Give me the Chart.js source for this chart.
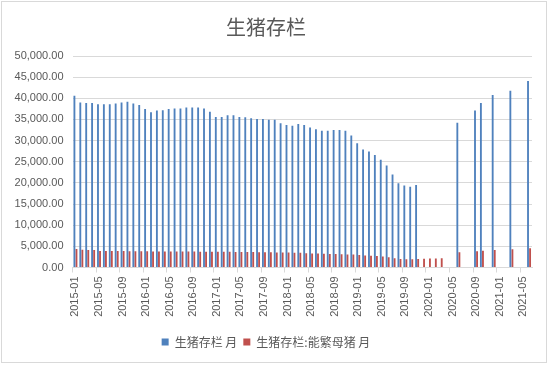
<!DOCTYPE html>
<html><head><meta charset="utf-8">
<script src="https://cdn.jsdelivr.net/npm/chart.js@4.4.1/dist/chart.umd.min.js"></script>
<style>html,body{margin:0;padding:0;background:#fff;}canvas{display:block;}</style>
</head><body>
<canvas id="c" width="550" height="365"></canvas>
<script>
const categories = [
 '2015-01','2015-02','2015-03','2015-04','2015-05','2015-06','2015-07','2015-08','2015-09','2015-10','2015-11','2015-12',
 '2016-01','2016-02','2016-03','2016-04','2016-05','2016-06','2016-07','2016-08','2016-09','2016-10','2016-11','2016-12',
 '2017-01','2017-02','2017-03','2017-04','2017-05','2017-06','2017-07','2017-08','2017-09','2017-10','2017-11','2017-12',
 '2018-01','2018-02','2018-03','2018-04','2018-05','2018-06','2018-07','2018-08','2018-09','2018-10','2018-11','2018-12',
 '2019-01','2019-02','2019-03','2019-04','2019-05','2019-06','2019-07','2019-08','2019-09','2019-10','2019-11','2019-12',
 '2020-01','2020-02','2020-03','2020-04','2020-05','2020-06','2020-07','2020-08','2020-09','2020-10','2020-11','2020-12',
 '2021-01','2021-02','2021-03','2021-04','2021-05','2021-06'
];
const tickLabels = ['2015-01','2015-05','2015-09','2016-01','2016-05','2016-09','2017-01','2017-05','2017-09',
 '2018-01','2018-05','2018-09','2019-01','2019-05','2019-09','2020-01','2020-05','2020-09','2021-01','2021-05'];
const hogStock = [
 40600,39000,38900,38900,38600,38600,38600,38800,39000,39200,38800,38400,
 37500,36700,37100,37200,37500,37600,37600,37800,37800,37800,37600,36800,
 35600,35600,36000,36000,35600,35500,35300,35100,35100,34900,34900,34100,
 33700,33500,33900,33700,33100,32700,32300,32300,32500,32500,32300,31200,
 29400,27900,27400,26600,25500,24100,22000,19900,19400,19100,19500,null,
 null,null,null,null,null,34200,null,null,37100,38900,null,40800,
 null,null,41800,null,null,44100
];
const sowStock = [
 4370,4200,4150,4150,3930,3900,3890,3880,3880,3870,3860,3840,
 3820,3800,3800,3800,3800,3800,3790,3780,3760,3740,3730,3720,
 3720,3700,3700,3680,3670,3660,3640,3620,3600,3580,3560,3550,
 3520,3500,3500,3350,3300,3300,3250,3200,3200,3150,3100,3050,
 2950,2850,2800,2700,2600,2400,2200,2000,1930,1940,2020,2070,
 2100,2120,2170,null,null,3620,null,null,3820,3950,null,4160,
 null,null,4320,null,null,4560
];
const seriesNames = ['生猪存栏 月','生猪存栏:能繁母猪 月'];
const titleText = '生猪存栏';

const TXT = '#595959';
const GRID = '#d9d9d9';
const FONT = "'Liberation Sans', Arial, 'Noto Sans CJK SC', sans-serif";
const CJK = "'Noto Sans CJK SC', 'Liberation Sans', sans-serif";

const frame = {
  id: 'frame',
  beforeDraw(chart) {
    const c = chart.ctx;
    c.save();
    c.fillStyle = '#fff';
    c.fillRect(0, 0, chart.width, chart.height);
    c.strokeStyle = GRID;
    c.lineWidth = 1;
    c.strokeRect(1.5, 1.5, 545, 361);
    c.restore();
  }
};

new Chart(document.getElementById('c'), {
  type: 'bar',
  data: {
    labels: categories,
    datasets: [
      { label: seriesNames[0], data: hogStock, backgroundColor: '#4F81BD', categoryPercentage: 0.7, barPercentage: 0.9 },
      { label: seriesNames[1], data: sowStock, backgroundColor: '#C0504D', categoryPercentage: 0.7, barPercentage: 0.9 }
    ]
  },
  options: {
    responsive: false,
    animation: false,
    devicePixelRatio: 1,
    layout: { padding: { top: 0, right: 18, bottom: 7, left: 0 } },
    plugins: {
      title: { display: true, text: titleText, color: TXT, font: { family: CJK, size: 20, weight: 'normal' }, padding: { top: 15, bottom: 17 } },
      legend: {
        position: 'bottom',
        labels: { boxWidth: 7, boxHeight: 7, padding: 6, color: TXT, font: { family: CJK, size: 12 } }
      },
      tooltip: { enabled: false }
    },
    scales: {
      x: {
        afterFit: (s) => { s.height = 62.5; },
        grid: {
          display: true, drawOnChartArea: false, drawTicks: true, tickLength: 5, offset: true,
          color: (ctx) => (ctx.index % 4 === 0 ? GRID : 'rgba(0,0,0,0)')
        },
        border: { display: true, color: GRID },
        ticks: {
          autoSkip: false, maxRotation: 90, minRotation: 90, padding: 4,
          color: TXT, font: { family: FONT, size: 11 },
          callback: function (v, i) { const l = categories[i]; return tickLabels.includes(l) ? l : ''; }
        }
      },
      y: {
        min: 0, max: 50000,
        afterFit: (s) => { s.width = 72.5; },
        grid: { color: GRID, drawTicks: false },
        border: { display: false },
        ticks: {
          stepSize: 5000, padding: 9, color: TXT, font: { family: FONT, size: 11 },
          callback: (v) => v.toLocaleString('en-US', { minimumFractionDigits: 2, maximumFractionDigits: 2 })
        }
      }
    }
  },
  plugins: [frame]
});
</script>
</body></html>
